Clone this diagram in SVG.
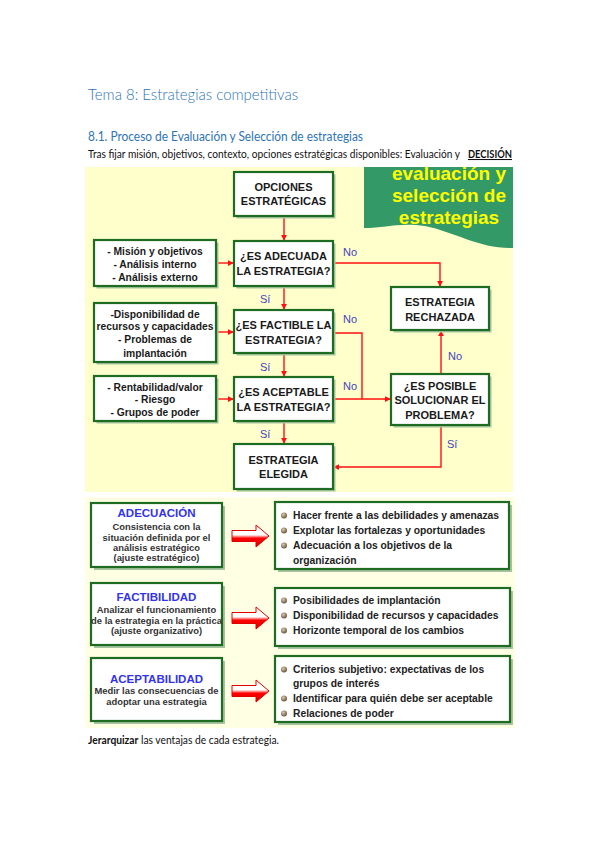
<svg xmlns="http://www.w3.org/2000/svg" width="599" height="848" viewBox="0 0 599 848">
<style>
.doc{font-family:Lato,"Open Sans","Liberation Sans",sans-serif}
.h1{font-size:16px;fill:#2E74B5;font-weight:300}
.h2{font-size:12.5px;fill:#2E74B5}
.body{font-size:10.5px;fill:#111}
.fc{font-family:"Liberation Sans",Arial,sans-serif;font-weight:bold;font-size:11px;fill:#1a1a1a;text-anchor:middle}
.fl{font-family:"Liberation Sans",Arial,sans-serif;font-weight:bold;font-size:10.3px;fill:#1a1a1a;text-anchor:middle}
.lab{font-family:"Liberation Sans",Arial,sans-serif;font-size:11px;fill:#4444BB}
.box{fill:#fff;stroke:#1E6B22;stroke-width:2.2}
.sh{fill:#A6C4A0}
.ln{fill:none;stroke:#FF1010;stroke-width:1.4}
.hd{font-family:"Liberation Sans",Arial,sans-serif;font-weight:bold;font-size:19px;fill:#FFFF00;text-anchor:middle}
.tt{font-family:"Liberation Sans",Arial,sans-serif;font-weight:bold;font-size:11.5px;fill:#3333EE;text-anchor:middle}
.st{font-family:"Liberation Sans",Arial,sans-serif;font-weight:bold;font-size:9.4px;fill:#333;text-anchor:middle}
.bl{font-family:"Liberation Sans",Arial,sans-serif;font-weight:bold;font-size:10.3px;fill:#222}
.arr{fill:url(#ag);stroke:#E00000;stroke-width:1}
</style>
<defs>
<marker id="ah" viewBox="0 0 8 8" refX="7" refY="4" markerWidth="6" markerHeight="6" orient="auto" markerUnits="userSpaceOnUse">
<path d="M0,0 L8,4 L0,8 Z" fill="#FF1010"/>
</marker>
<radialGradient id="bg1" cx="0.4" cy="0.35" r="0.7">
<stop offset="0" stop-color="#E0C8A8"/>
<stop offset="1" stop-color="#5E4A38"/>
</radialGradient>
<linearGradient id="ag" x1="0" y1="0" x2="0" y2="1">
<stop offset="0" stop-color="#fff"/>
<stop offset="0.45" stop-color="#fff"/>
<stop offset="0.6" stop-color="#FF0000"/>
<stop offset="1" stop-color="#D00000"/>
</linearGradient>
<clipPath id="hc"><rect x="364" y="167" width="149" height="90"/></clipPath>
<g id="bul"><circle r="3" fill="url(#bg1)"/></g>
</defs>

<rect width="599" height="848" fill="#fff"/>

<g id="texts" class="doc">
<text class="h1" x="88" y="100" textLength="210" lengthAdjust="spacingAndGlyphs">Tema 8: Estrategias competitivas</text>
<text class="h2" x="88" y="141" textLength="275" lengthAdjust="spacingAndGlyphs">8.1. Proceso de Evaluación y Selección de estrategias</text>
<text class="body" x="88" y="158" textLength="372" lengthAdjust="spacingAndGlyphs">Tras fijar misión, objetivos, contexto, opciones estratégicas disponibles: Evaluación y</text>
<text class="body" x="468" y="158" font-weight="bold" text-decoration="underline" textLength="44" lengthAdjust="spacingAndGlyphs">DECISIÓN</text>
<text class="body" x="88" y="744" textLength="191" lengthAdjust="spacingAndGlyphs"><tspan font-weight="bold">Jerarquizar</tspan> las ventajas de cada estrategia.</text>
</g>

<rect x="85" y="167" width="428" height="325" fill="#FFFFCC"/>
<rect x="85" y="497" width="430" height="231" fill="#FFFFE4"/>

<g id="header">
<path d="M364,167 H513 V248 C480,249 455,232 425,226 C400,222 385,228 364,228 Z" fill="#339966"/>
<g clip-path="url(#hc)">
<text class="hd" x="449" y="180">evaluación y</text>
<text class="hd" x="449" y="202">selección de</text>
<text class="hd" x="449" y="224">estrategias</text>
</g>
</g>

<g id="connectors">
<path class="ln" d="M284,216 V240" marker-end="url(#ah)"/>
<path class="ln" d="M216,263 H233" marker-end="url(#ah)"/>
<path class="ln" d="M284,286 V309" marker-end="url(#ah)"/>
<path class="ln" d="M216,332 H233" marker-end="url(#ah)"/>
<path class="ln" d="M284,353 V376" marker-end="url(#ah)"/>
<path class="ln" d="M216,399 H233" marker-end="url(#ah)"/>
<path class="ln" d="M284,421 V443" marker-end="url(#ah)"/>
<path class="ln" d="M333,263 H440 V286" marker-end="url(#ah)"/>
<path class="ln" d="M333,333 H362 V399"/>
<path class="ln" d="M333,399 H390" marker-end="url(#ah)"/>
<path class="ln" d="M441,374 V331" marker-end="url(#ah)"/>
<path class="ln" d="M441,425 V467 H334" marker-end="url(#ah)"/>
<text class="lab" x="343" y="256">No</text>
<text class="lab" x="260" y="303">Sí</text>
<text class="lab" x="343" y="323">No</text>
<text class="lab" x="260" y="371">Sí</text>
<text class="lab" x="343" y="390">No</text>
<text class="lab" x="448" y="360">No</text>
<text class="lab" x="260" y="438">Sí</text>
<text class="lab" x="447" y="448">Sí</text>
</g>

<g id="opciones">
<rect class="sh" x="236.5" y="174.5" width="99" height="44"/>
<rect class="box" x="234" y="172" width="99" height="44"/>
<text class="fc" x="283.5" y="191">OPCIONES</text>
<text class="fc" x="283.5" y="205">ESTRATÉGICAS</text>
</g>
<g id="adecuada">
<rect class="sh" x="236.5" y="243.5" width="99" height="45"/>
<rect class="box" x="234" y="241" width="99" height="45"/>
<text class="fc" x="283.5" y="260">¿ES ADECUADA</text>
<text class="fc" x="283.5" y="275">LA ESTRATEGIA?</text>
</g>
<g id="factible">
<rect class="sh" x="236.5" y="312.5" width="99" height="43"/>
<rect class="box" x="234" y="310" width="99" height="43"/>
<text class="fc" x="283.5" y="329">¿ES FACTIBLE LA</text>
<text class="fc" x="283.5" y="344">ESTRATEGIA?</text>
</g>
<g id="aceptable">
<rect class="sh" x="236.5" y="379.5" width="99" height="44"/>
<rect class="box" x="234" y="377" width="99" height="44"/>
<text class="fc" x="283.5" y="396">¿ES ACEPTABLE</text>
<text class="fc" x="283.5" y="411">LA ESTRATEGIA?</text>
</g>
<g id="elegida">
<rect class="sh" x="236.5" y="446.5" width="99" height="45"/>
<rect class="box" x="234" y="444" width="99" height="45"/>
<text class="fc" x="283.5" y="464">ESTRATEGIA</text>
<text class="fc" x="283.5" y="478">ELEGIDA</text>
</g>
<g id="rechazada">
<rect class="sh" x="393.5" y="289.5" width="98" height="43"/>
<rect class="box" x="391" y="287" width="98" height="43"/>
<text class="fc" x="440" y="306">ESTRATEGIA</text>
<text class="fc" x="440" y="321">RECHAZADA</text>
</g>
<g id="posible">
<rect class="sh" x="393.5" y="376.5" width="98" height="51"/>
<rect class="box" x="391" y="374" width="98" height="51"/>
<text class="fc" x="440" y="390">¿ES POSIBLE</text>
<text class="fc" x="440" y="404">SOLUCIONAR EL</text>
<text class="fc" x="440" y="419">PROBLEMA?</text>
</g>
<g id="inputs1">
<rect class="sh" x="96.5" y="242.5" width="122" height="46"/>
<rect class="box" x="94" y="240" width="122" height="46"/>
<text class="fl" x="155" y="255">- Misión y objetivos</text>
<text class="fl" x="155" y="268">- Análisis interno</text>
<text class="fl" x="155" y="281">- Análisis externo</text>
</g>
<g id="inputs2">
<rect class="sh" x="96.5" y="305.5" width="122" height="59"/>
<rect class="box" x="94" y="303" width="122" height="59"/>
<text class="fl" x="155" y="318">-Disponibilidad de</text>
<text class="fl" x="155" y="330">recursos y capacidades</text>
<text class="fl" x="155" y="343">- Problemas de</text>
<text class="fl" x="155" y="357">implantación</text>
</g>
<g id="inputs3">
<rect class="sh" x="96.5" y="378.5" width="122" height="45"/>
<rect class="box" x="94" y="376" width="122" height="45"/>
<text class="fl" x="155" y="391">- Rentabilidad/valor</text>
<text class="fl" x="155" y="403">- Riesgo</text>
<text class="fl" x="155" y="416">- Grupos de poder</text>
</g>

<g id="adecuacion">
<rect class="sh" x="94" y="506" width="131" height="64"/>
<rect class="box" x="91" y="503" width="131" height="64"/>
<text class="tt" x="156.5" y="517">ADECUACIÓN</text>
<text class="st" x="156.5" y="530">Consistencia con la</text>
<text class="st" x="156.5" y="541">situación definida por el</text>
<text class="st" x="156.5" y="551">análisis estratégico</text>
<text class="st" x="156.5" y="561">(ajuste estratégico)</text>
</g>
<g id="arrow1"><path class="arr" d="M232,530.5 H256 V525 L269,536 L256,547 V541.5 H232 Z"/></g>
<g id="adecuacion-list">
<rect class="sh" x="278" y="505" width="234" height="67"/>
<rect class="box" x="275" y="502" width="234" height="67"/>
<use href="#bul" x="284" y="515.5"/>
<use href="#bul" x="284" y="530.5"/>
<use href="#bul" x="284" y="545.5"/>
<text class="bl" x="293" y="519">Hacer frente a las debilidades y amenazas</text>
<text class="bl" x="293" y="534">Explotar las fortalezas y oportunidades</text>
<text class="bl" x="293" y="549">Adecuación a los objetivos de la</text>
<text class="bl" x="293" y="564">organización</text>
</g>

<g id="factibilidad">
<rect class="sh" x="94" y="586" width="131" height="62"/>
<rect class="box" x="91" y="583" width="131" height="62"/>
<text class="tt" x="156.5" y="601">FACTIBILIDAD</text>
<text class="st" x="156.5" y="613">Analizar el funcionamiento</text>
<text class="st" x="156.5" y="624">de la estrategia en la práctica</text>
<text class="st" x="156.5" y="634">(ajuste organizativo)</text>
</g>
<g id="arrow2"><path class="arr" d="M232,612.5 H256 V607 L269,618 L256,629 V623.5 H232 Z"/></g>
<g id="factibilidad-list">
<rect class="sh" x="278" y="591" width="235" height="58"/>
<rect class="box" x="275" y="588" width="235" height="58"/>
<use href="#bul" x="284" y="600.5"/>
<use href="#bul" x="284" y="615.5"/>
<use href="#bul" x="284" y="630.5"/>
<text class="bl" x="293" y="604">Posibilidades de implantación</text>
<text class="bl" x="293" y="619">Disponibilidad de recursos y capacidades</text>
<text class="bl" x="293" y="634">Horizonte temporal de los cambios</text>
</g>

<g id="aceptabilidad">
<rect class="sh" x="94" y="661" width="131" height="63"/>
<rect class="box" x="91" y="658" width="131" height="63"/>
<text class="tt" x="156.5" y="683">ACEPTABILIDAD</text>
<text class="st" x="156.5" y="694">Medir las consecuencias de</text>
<text class="st" x="156.5" y="705">adoptar una estrategia</text>
</g>
<g id="arrow3"><path class="arr" d="M232,685.5 H256 V680 L269,691 L256,702 V696.5 H232 Z"/></g>
<g id="aceptabilidad-list">
<rect class="sh" x="278" y="659" width="235" height="66"/>
<rect class="box" x="275" y="656" width="235" height="66"/>
<use href="#bul" x="284" y="669.5"/>
<use href="#bul" x="284" y="698.5"/>
<use href="#bul" x="284" y="713.5"/>
<text class="bl" x="293" y="673">Criterios subjetivo: expectativas de los</text>
<text class="bl" x="293" y="687">grupos de interés</text>
<text class="bl" x="293" y="702">Identificar para quién debe ser aceptable</text>
<text class="bl" x="293" y="717">Relaciones de poder</text>
</g>
</svg>
